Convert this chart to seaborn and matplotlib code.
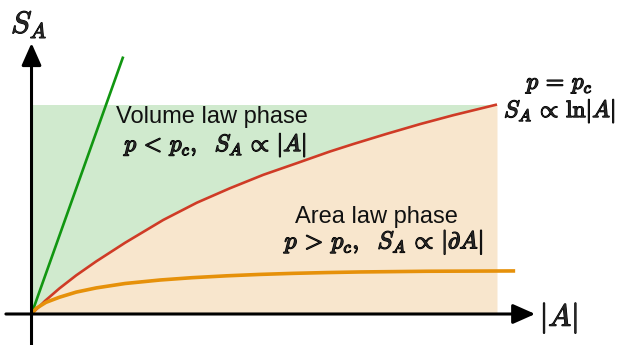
import matplotlib
matplotlib.use("Agg")
import matplotlib.pyplot as plt
import matplotlib.patheffects as pe
import numpy as np
import pandas as pd
import seaborn as sns

# Schematic entanglement entropy S_A versus subsystem size |A|
box_right = 10.0
box_top = 4.5

# volume-law reference line
volume_x = [0.0, 1.97]
volume_y = [0.0, 5.53]

# critical point p = p_c: logarithmic growth
critical_x = [0.0, 0.30, 0.60, 0.96, 1.39, 2.01, 2.83, 3.55, 4.26, 4.98,
              5.70, 6.41, 6.91, 7.63, 8.35, 9.06, 10.0]
critical_y = [0.0, 0.29, 0.55, 0.83, 1.13, 1.53, 2.02, 2.39, 2.70, 2.99,
              3.24, 3.49, 3.65, 3.87, 4.08, 4.27, 4.50]

# area-law curve: saturates quickly
area_x = [0.0, 0.10, 0.31, 0.60, 0.96, 1.39, 2.01, 2.76, 3.45, 4.19,
          4.90, 5.62, 6.34, 7.06, 8.49, 10.39]
area_y = [0.0, 0.12, 0.25, 0.36, 0.47, 0.56, 0.655, 0.73, 0.78, 0.82,
          0.85, 0.873, 0.89, 0.903, 0.918, 0.925]

sns.set_theme(style="white")
plt.rcParams["font.family"] = ["Liberation Sans", "DejaVu Sans"]
plt.rcParams["mathtext.fontset"] = "cm"

fig = plt.figure(figsize=(6.21, 3.45), dpi=100)
ax = fig.add_axes([0, 0, 1, 1])
ax.set_xlim(-0.677, 12.664)
ax.set_ylim(-0.666, 6.745)
ax.axis("off")

green_fill = "#D0EACE"
tan_fill = "#F8E6CD"
green = "#119611"
red = "#CF3B26"
orange = "#E6910A"

cx = np.array(critical_x)
cy = np.array(critical_y)
ax.fill_between(cx, cy, box_top, color=green_fill, lw=0, zorder=1)
ax.fill_between(cx, 0, cy, color=tan_fill, lw=0, zorder=1)

curves = pd.concat([
    pd.DataFrame({"A": volume_x, "S": volume_y, "phase": "volume"}),
    pd.DataFrame({"A": critical_x, "S": critical_y, "phase": "critical"}),
    pd.DataFrame({"A": area_x, "S": area_y, "phase": "area"}),
])
palette = {"volume": green, "critical": red, "area": orange}
widths = {"volume": 1.9, "critical": 1.9, "area": 2.6}
for phase, sub in curves.groupby("phase", sort=False):
    sns.lineplot(data=sub, x="A", y="S", ax=ax, color=palette[phase],
                 lw=widths[phase], sort=False, estimator=None, zorder=3,
                 solid_capstyle="butt", solid_joinstyle="round")

# axes drawn as arrows
arrow_kw = dict(arrowstyle="-|>,head_length=0.9,head_width=0.4",
                color="black", lw=2.2, mutation_scale=15,
                shrinkA=0, shrinkB=0)
ax.annotate("", xy=(10.82, 0), xytext=(-0.55, 0), arrowprops=arrow_kw,
            zorder=5)
ax.annotate("", xy=(0, 5.82), xytext=(0, -0.70), arrowprops=arrow_kw,
            zorder=5)

heavy = [pe.withStroke(linewidth=0.8, foreground="black")]
bold = [pe.withStroke(linewidth=0.9, foreground="black")]

ax.text(-0.05, 6.23, r"$S_A$", fontsize=22, ha="center", va="center",
        path_effects=heavy)
ax.text(11.33, -0.08, r"$|A|$", fontsize=22, ha="center", va="center",
        path_effects=heavy)

ax.text(3.88, 4.23, "Volume law phase", fontsize=17, ha="center",
        va="center", color="#111111")
ax.text(3.96, 3.63, r"$p\,<\,p_c,\ \ S_A\,\propto\,|A|$", fontsize=17,
        ha="center", va="center", path_effects=bold)

ax.text(7.42, 2.08, "Area law phase", fontsize=17, ha="center",
        va="center", color="#111111")
ax.text(7.58, 1.55, r"$p\,>\,p_c,\ \ S_A\,\propto\,|\partial A|$",
        fontsize=17.5, ha="center", va="center", path_effects=bold)

ax.text(11.35, 4.92, r"$p\,=\,p_c$", fontsize=17, ha="center",
        va="center", path_effects=bold)
ax.text(11.35, 4.36, r"$S_A\,\propto\,\ln|A|$", fontsize=17, ha="center",
        va="center", path_effects=bold)

fig.savefig("out.png", dpi=100)
